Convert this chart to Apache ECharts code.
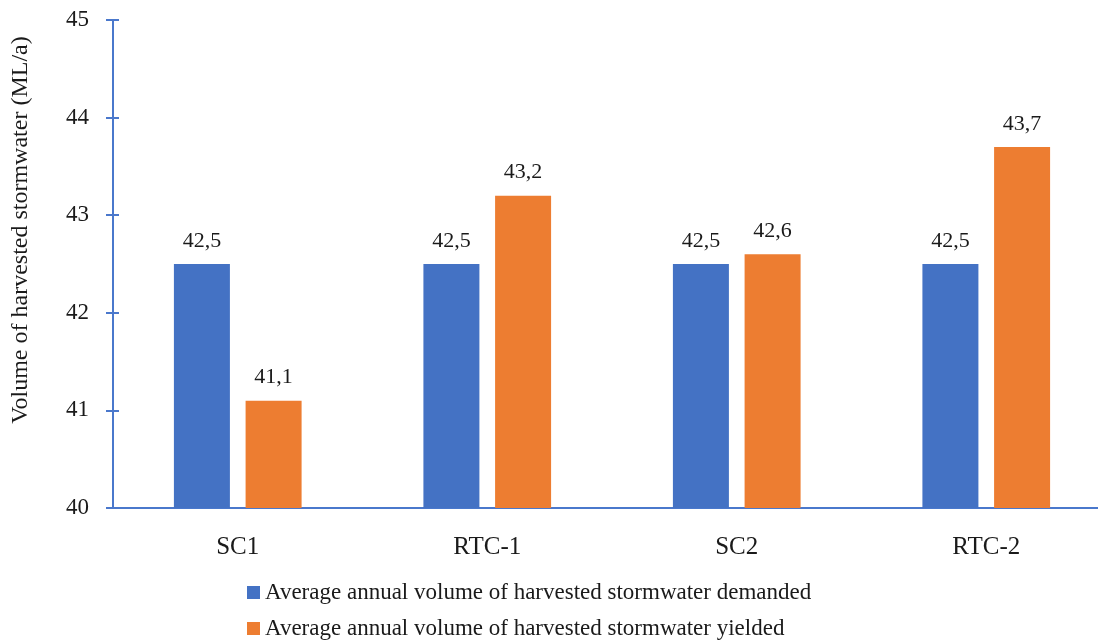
<!DOCTYPE html>
<html>
<head>
<meta charset="utf-8">
<script src="https://cdn.jsdelivr.net/npm/echarts@6/dist/echarts.min.js"></script>
<style>
  html, body { margin: 0; padding: 0; background: #ffffff; overflow: hidden; }
  #chart { width: 1112px; height: 642px; }
</style>
</head>
<body>
<div id="chart"></div>
<script>
// Scenarios on the category axis
const categories = ['SC1', 'RTC-1', 'SC2', 'RTC-2'];
// Average annual volume of harvested stormwater (ML/a)
const demanded = [42.5, 42.5, 42.5, 42.5];
const yielded = [41.1, 43.2, 42.6, 43.7];
const seriesNames = [
  'Average annual volume of harvested stormwater demanded',
  'Average annual volume of harvested stormwater yielded'
];
const yMin = 40, yMax = 45, yStep = 1;

const FONT = '"Liberation Serif", "Times New Roman", serif';
const AXIS_BLUE = '#4a78cc';
const TEXT = '#1a1a1a';
const COLORS = ['#4472c4', '#ed7d31'];
const commaFmt = v => String(v).replace('.', ',');

const chart = echarts.init(document.getElementById('chart'));

const valueLabel = {
  show: true,
  position: 'top',
  distance: 12,
  fontFamily: FONT,
  fontSize: 22,
  color: TEXT,
  formatter: p => commaFmt(p.value)
};

// one legend row per series, stacked under the plot
const legendRow = (name, top) => ({
  orient: 'horizontal',
  left: 242,
  top: top,
  itemWidth: 13,
  itemHeight: 13,
  icon: 'rect',
  selectedMode: false,
  textStyle: { fontFamily: FONT, fontSize: 23, color: TEXT },
  data: [name]
});

chart.setOption({
  backgroundColor: '#ffffff',
  animation: false,
  color: COLORS,
  grid: { left: 113, top: 20, right: 1, height: 488 },
  legend: [
    legendRow(seriesNames[0], 576),
    legendRow(seriesNames[1], 612)
  ],
  xAxis: {
    type: 'category',
    data: categories,
    axisLine: { lineStyle: { color: AXIS_BLUE, width: 2 } },
    axisTick: { show: false },
    axisLabel: { margin: 27, fontFamily: FONT, fontSize: 25, color: TEXT },
    splitLine: { show: false }
  },
  yAxis: [
    {
      type: 'value',
      min: yMin, max: yMax, interval: yStep,
      name: 'Volume of harvested stormwater (ML/a)',
      nameLocation: 'middle',
      nameGap: 80,
      nameTextStyle: {
        fontFamily: FONT, fontSize: 24, color: TEXT,
        padding: [0, 0, 0, 68]
      },
      axisLine: { show: true, lineStyle: { color: AXIS_BLUE, width: 2 } },
      axisTick: { show: true, length: 7, lineStyle: { color: AXIS_BLUE, width: 2 } },
      axisLabel: { margin: 24, fontFamily: FONT, fontSize: 23, color: TEXT },
      splitLine: { show: false }
    },
    {
      // inner half of the tick marks, so they cross the axis line
      type: 'value',
      min: yMin, max: yMax, interval: yStep,
      position: 'left',
      axisLine: { show: false },
      axisTick: { show: true, inside: true, length: 6, lineStyle: { color: AXIS_BLUE, width: 2 } },
      axisLabel: { show: false },
      splitLine: { show: false }
    }
  ],
  series: [
    {
      name: seriesNames[0],
      type: 'bar',
      data: demanded,
      barWidth: 56,
      barGap: '28%',
      itemStyle: { color: COLORS[0] },
      label: valueLabel
    },
    {
      name: seriesNames[1],
      type: 'bar',
      data: yielded,
      barWidth: 56,
      barGap: '28%',
      itemStyle: { color: COLORS[1] },
      label: valueLabel
    }
  ]
});
</script>
</body>
</html>
